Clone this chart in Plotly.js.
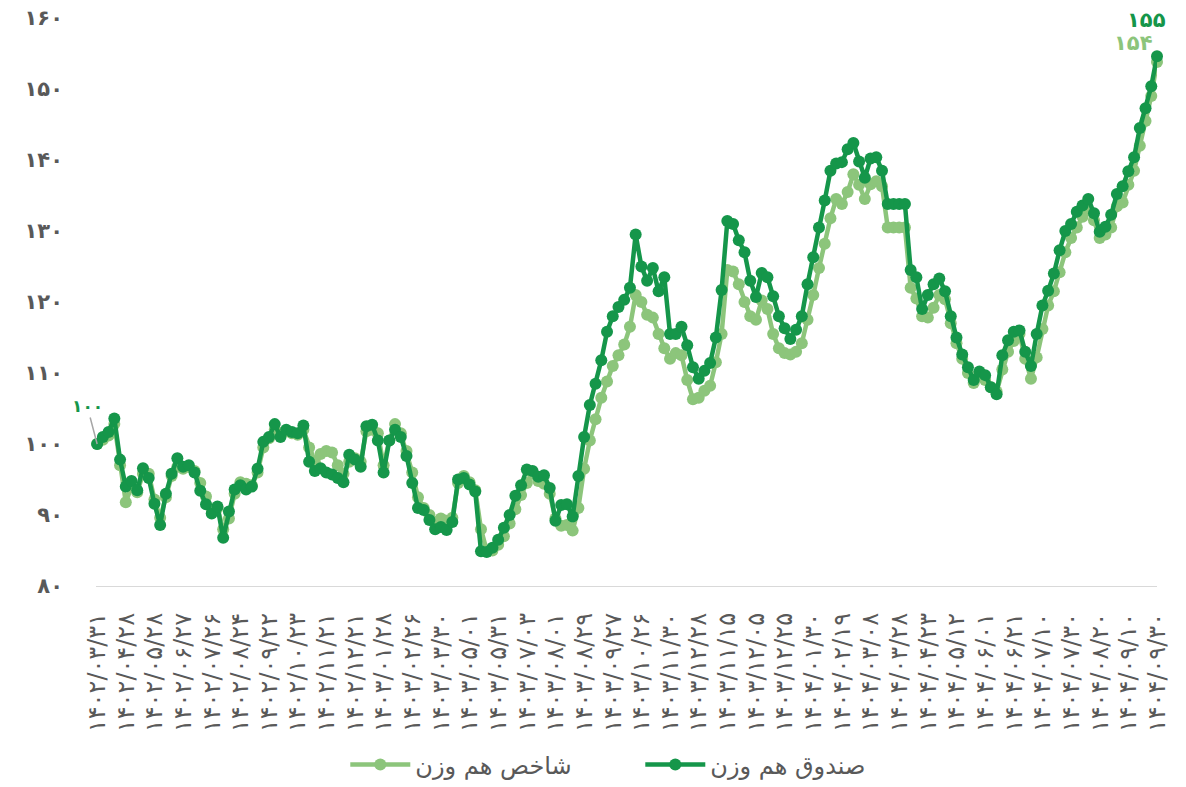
<!DOCTYPE html>
<html><head><meta charset="utf-8">
<script src="https://cdn.plot.ly/plotly-3.0.1.min.js"></script>
<style>html,body{margin:0;padding:0;background:#fff}#chart{width:1186px;height:787px}</style>
</head><body><div id="chart"></div>
<script>
const tickDates = [
"1402/03/31","1402/04/28","1402/05/28","1402/06/27","1402/07/26","1402/08/24","1402/09/22","1402/10/23","1402/11/21","1402/12/21",
"1403/01/28","1403/02/26","1403/03/30","1403/05/01","1403/05/31","1403/07/03","1403/08/01","1403/08/29","1403/09/27","1403/10/26",
"1403/11/30","1403/12/28","1403/11/15","1403/12/05","1403/12/25","1404/01/30","1404/02/19","1404/03/08","1404/03/28","1404/04/23",
"1404/05/12","1404/06/01","1404/06/21","1404/07/10","1404/07/30","1404/08/20","1404/09/10","1404/09/30"];
const pointsPerTick = 5;

const fundName = "صندوق هم وزن";
const indexName = "شاخص هم وزن";

const fundValues = [
100.0,101.0,101.7,103.6,97.8,94.0,94.8,93.5,96.6,95.2,
91.6,88.6,93.0,95.8,98.0,96.8,97.0,96.0,93.4,91.5,
90.2,91.2,86.8,90.5,93.6,94.2,93.6,94.0,96.5,100.3,
101.0,102.8,101.0,102.0,101.7,101.5,102.6,97.5,96.2,96.6,
96.0,95.7,95.2,94.6,98.5,97.8,96.8,102.5,102.7,100.5,
96.0,100.5,102.0,101.0,98.3,94.5,91.0,90.7,89.3,88.0,
88.3,87.9,89.0,95.0,95.2,94.3,93.3,84.9,84.8,85.4,
86.5,88.2,90.0,92.7,94.2,96.4,96.2,95.4,95.6,93.8,
89.2,91.4,91.5,89.8,95.5,101.0,105.5,108.5,111.8,115.8,
118.0,119.3,120.3,122.0,129.5,125.0,123.0,124.8,121.5,123.5,
115.5,115.5,116.5,113.9,110.8,109.2,110.3,111.4,115.0,121.7,
131.4,131.0,128.7,127.0,123.0,120.7,124.1,123.5,120.8,118.0,
116.3,114.8,116.1,118.0,122.5,126.3,130.5,134.3,138.5,139.5,
139.7,141.5,142.4,139.8,137.5,140.2,140.4,138.5,133.8,133.8,
133.8,133.8,124.5,123.5,119.0,121.0,122.5,123.3,121.5,118.0,
115.0,112.6,110.8,109.0,110.2,109.7,108.0,107.0,112.5,114.6,
115.8,116.0,113.0,111.0,115.5,119.5,121.6,124.0,127.3,130.0,
131.0,132.7,133.6,134.5,132.5,129.9,130.6,132.3,135.2,136.3,
138.4,140.4,144.5,147.3,150.4,154.6];

const indexValues = [
100.0,100.6,101.2,102.8,97.0,91.8,94.0,93.2,95.8,95.8,
92.2,89.6,92.5,95.5,96.8,96.5,96.8,96.2,94.5,92.6,
90.8,91.0,88.0,89.5,93.0,94.6,94.4,94.2,96.0,99.5,
100.8,102.0,101.5,101.8,101.5,101.3,102.0,99.5,97.5,98.6,
99.0,98.8,97.0,95.8,97.5,98.0,97.5,101.8,102.0,101.5,
97.0,100.5,102.8,101.5,99.0,96.0,92.5,91.0,90.0,89.0,
89.5,89.2,89.6,94.5,95.5,94.6,93.5,88.0,85.0,85.0,
85.8,87.0,88.8,90.8,92.8,94.5,95.8,94.8,94.4,93.0,
89.5,88.5,88.6,87.8,91.0,96.5,100.5,103.5,106.5,108.8,
111.0,112.5,114.0,116.5,121.0,120.0,118.2,117.8,115.5,113.5,
112.0,112.8,112.5,109.0,106.3,106.5,107.5,108.2,111.5,115.5,
124.5,124.3,122.5,120.0,118.0,117.5,120.2,119.0,115.5,113.5,
112.8,112.6,113.0,114.2,117.5,121.0,124.8,128.2,131.8,134.5,
133.8,135.5,138.0,136.5,134.5,136.6,137.0,136.3,130.5,130.5,
130.5,130.5,122.0,120.5,118.0,117.8,119.2,121.0,120.4,117.0,
114.2,112.0,110.0,108.6,109.5,109.0,108.0,107.4,110.5,113.0,
114.5,115.5,112.0,109.2,112.2,116.2,119.5,121.5,124.2,127.0,
129.0,130.5,132.0,133.0,131.5,129.0,129.5,130.5,133.5,134.0,
136.5,138.5,142.0,145.5,149.0,153.8];

const yTicks = [80,90,100,110,120,130,140,150,160];

const darkGreen = "#15964a";
const lightGreen = "#8cc57b";
const textGray = "#595959";
const FONT = "DejaVu Sans";

function toFa(s) {
  return String(s).replace(/[0-9]/g, d => "۰۱۲۳۴۵۶۷۸۹"[+d]);
}

const xs = fundValues.map((_, i) => i);
const last = fundValues.length - 1;

const traces = [
  {
    x: xs, y: indexValues, name: indexName, type: "scatter", mode: "lines+markers",
    line: {color: lightGreen, width: 4.5}, marker: {color: lightGreen, size: 12},
    cliponaxis: false, hoverinfo: "skip"
  },
  {
    x: xs, y: fundValues, name: fundName, type: "scatter", mode: "lines+markers",
    line: {color: darkGreen, width: 4.5}, marker: {color: darkGreen, size: 12},
    cliponaxis: false, hoverinfo: "skip"
  }
];

const layout = {
  width: 1186, height: 787,
  margin: {l: 96, r: 29, t: 18, b: 201, autoexpand: false},
  paper_bgcolor: "#ffffff", plot_bgcolor: "#ffffff",
  showlegend: true,
  legend: {
    orientation: "h", x: 0.513, xanchor: "center", y: -0.315, yanchor: "middle",
    font: {family: FONT, size: 24, color: textGray}, itemwidth: 60,
    entrywidth: 220, entrywidthmode: "pixels"
  },
  xaxis: {
    automargin: false,
    range: [-0.2, last],
    tickmode: "array",
    tickvals: tickDates.map((_, i) => i * pointsPerTick),
    ticktext: tickDates.map(toFa),
    tickangle: -90,
    tickfont: {family: FONT, size: 24, color: textGray},
    showgrid: false, zeroline: false,
    showline: true, linecolor: "#d9d9d9", linewidth: 1.3,
    ticks: "", ticklabelstandoff: 16
  },
  yaxis: {
    automargin: false,
    range: [80, 160],
    tickmode: "array",
    tickvals: yTicks,
    ticktext: yTicks.map(toFa),
    tickfont: {family: FONT, size: 21, color: textGray, weight: "bold"},
    showgrid: false, zeroline: false, showline: false, ticks: "",
    ticklabelstandoff: 32
  },
  annotations: [
    {
      x: 0, y: fundValues[0], xref: "x", yref: "y",
      text: toFa(Math.round(fundValues[0])),
      showarrow: true, arrowhead: 0, arrowwidth: 1.5, arrowcolor: "#a6a6a6",
      ax: -10, ay: -38,
      font: {family: FONT, size: 17, color: darkGreen, weight: "bold"}
    },
    {
      x: last, y: fundValues[last], xref: "x", yref: "y",
      text: toFa(Math.round(fundValues[last])),
      showarrow: false, xshift: -11, yshift: 36,
      font: {family: FONT, size: 21, color: darkGreen, weight: "bold"}
    },
    {
      x: last, y: indexValues[last], xref: "x", yref: "y",
      text: toFa(Math.round(indexValues[last])),
      showarrow: false, xshift: -24, yshift: 19,
      font: {family: FONT, size: 21, color: lightGreen, weight: "bold"}
    }
  ]
};

Plotly.newPlot("chart", traces, layout, {displayModeBar: false, staticPlot: true});
</script>
</body></html>
